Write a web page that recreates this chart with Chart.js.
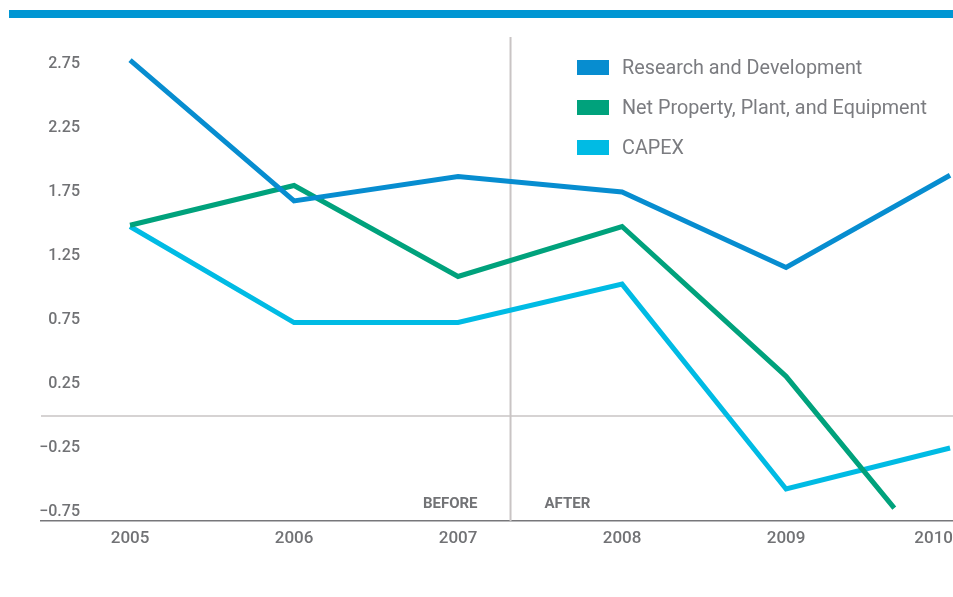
<!DOCTYPE html>
<html>
<head>
<meta charset="utf-8">
<script src="https://cdn.jsdelivr.net/npm/chart.js@4.4.1/dist/chart.umd.min.js"></script>
<style>
  html, body { margin: 0; padding: 0; background: #fff; }
  #wrap { position: relative; width: 953px; height: 597px; overflow: hidden; }
  #topBar { position: absolute; left: 9px; top: 10px; width: 944px; height: 8px; background: #0096d3; }
  #chart { position: absolute; left: 0; top: 0; }
  #legend { position: absolute; left: 577px; top: 47px; font-family: Roboto, sans-serif; font-size: 19.8px; color: #7b7c80; }
  .legend-item { display: flex; align-items: center; height: 40px; white-space: nowrap; }
  .legend-box { width: 32px; height: 15px; margin-right: 13px; }
</style>
</head>
<body>
<div id="wrap">
  <div id="topBar"></div>
  <canvas id="chart" width="953" height="597"></canvas>
  <div id="legend"></div>
</div>
<script>
// years on the x axis
const years = [2005, 2006, 2007, 2008, 2009, 2010];
const yearLabels = ['2005', '2006', '2007', '2008', '2009', '2010'];

// y axis ticks
const yTicks = [-0.75, -0.25, 0.25, 0.75, 1.25, 1.75, 2.25, 2.75];
const yTickLabels = ['\u22120.75', '\u22120.25', '0.25', '0.75', '1.25', '1.75', '2.25', '2.75'];

// series
const rdValues = [2.78, 1.68, 1.87, 1.75, 1.16, 1.88];
const ppeYears = [2005, 2006, 2007, 2008, 2009, 2009.66];
const ppeValues = [1.49, 1.80, 1.09, 1.48, 0.31, -0.72];
const capexValues = [1.48, 0.73, 0.73, 1.03, -0.57, -0.25];

// before / after split
const splitYear = 2007.32;

const seriesNames = ['Research and Development', 'Net Property, Plant, and Equipment', 'CAPEX'];
const seriesColors = ['#078dd0', '#00a27c', '#00bbe4'];

const toPoints = (xs, ys) => xs.map((x, i) => ({ x: x, y: ys[i] }));

// y labels are mirrored into the plot and right-aligned at x = 80
const tickFont = { family: 'Roboto', size: 16, weight: '500' };
const measureCtx = document.createElement('canvas').getContext('2d');
measureCtx.font = tickFont.weight + ' ' + tickFont.size + 'px ' + tickFont.family;
const widestTick = Math.max(...yTickLabels.map(s => measureCtx.measureText(s).width));

const referenceLines = {
    id: 'referenceLines',
    beforeDatasetsDraw(chart) {
        const { ctx, chartArea, scales } = chart;
        const y0 = scales.y.getPixelForValue(0);
        const xs = scales.x.getPixelForValue(splitYear);
        ctx.save();
        ctx.strokeStyle = '#c9c4c4';
        ctx.lineWidth = 1.5;
        ctx.beginPath();
        ctx.moveTo(chartArea.left, y0);
        ctx.lineTo(chartArea.right, y0);
        ctx.stroke();
        ctx.lineWidth = 2;
        ctx.beginPath();
        ctx.moveTo(xs, chartArea.top);
        ctx.lineTo(xs, chartArea.bottom);
        ctx.stroke();

        ctx.fillStyle = '#727376';
        ctx.font = 'bold 15px Roboto';
        ctx.textBaseline = 'middle';
        ctx.textAlign = 'right';
        ctx.fillText('BEFORE', xs - 33, chartArea.bottom - 17);
        ctx.textAlign = 'left';
        ctx.fillText('AFTER', xs + 34, chartArea.bottom - 17);
        ctx.restore();
    },
    afterDraw(chart) {
        // year labels, kept inside the canvas at the right edge
        const { ctx, chartArea, scales } = chart;
        ctx.save();
        ctx.fillStyle = '#717275';
        ctx.font = '500 17px Roboto';
        ctx.textBaseline = 'middle';
        ctx.textAlign = 'center';
        scales.x.ticks.forEach((t, i) => {
            const label = yearLabels[i];
            const w = ctx.measureText(label).width;
            let px = scales.x.getPixelForValue(t.value);
            px = Math.min(px, chart.width - w / 2);
            ctx.fillText(label, px, chartArea.bottom + 18);
        });
        ctx.restore();
    }
};

const chart = new Chart(document.getElementById('chart').getContext('2d'), {
    type: 'line',
    data: {
        datasets: [
            { label: seriesNames[0], data: toPoints(years, rdValues) },
            { label: seriesNames[1], data: toPoints(ppeYears, ppeValues) },
            { label: seriesNames[2], data: toPoints(years, capexValues) }
        ].map((d, i) => Object.assign(d, {
            borderColor: seriesColors[i],
            backgroundColor: seriesColors[i],
            borderWidth: 5,
            pointRadius: 0,
            tension: 0,
            fill: false,
            clip: false
        }))
    },
    options: {
        responsive: false,
        animation: false,
        layout: { padding: { left: 41, top: 37, right: 0, bottom: 0 } },
        plugins: {
            legend: { display: false },
            tooltip: { enabled: false }
        },
        scales: {
            x: {
                type: 'linear',
                min: 2004.457,
                max: 2010.018,
                afterBuildTicks: (scale) => { scale.ticks = years.map(v => ({ value: v })); },
                afterFit: (scale) => { scale.height = 76; },
                grid: { display: false, drawTicks: false },
                border: { display: true, color: '#77777a', width: 1.5 },
                ticks: { display: false }
            },
            y: {
                type: 'linear',
                min: -0.82,
                max: 2.96,
                afterBuildTicks: (scale) => { scale.ticks = yTicks.map(v => ({ value: v })); },
                afterFit: (scale) => { scale.width = 0; },
                grid: { display: false, drawTicks: false },
                border: { display: false },
                ticks: {
                    mirror: true,
                    crossAlign: 'far',
                    padding: 39 - widestTick,
                    color: '#717275',
                    font: tickFont,
                    callback: (v) => yTickLabels[yTicks.indexOf(v)]
                }
            }
        }
    },
    plugins: [referenceLines]
});

// legend
const legendEl = document.getElementById('legend');
seriesNames.forEach((name, i) => {
    const item = document.createElement('div');
    item.className = 'legend-item';
    item.innerHTML = '<span class="legend-box" style="background:' + seriesColors[i] + '"></span><span>' + name + '</span>';
    legendEl.appendChild(item);
});
</script>
</body>
</html>
